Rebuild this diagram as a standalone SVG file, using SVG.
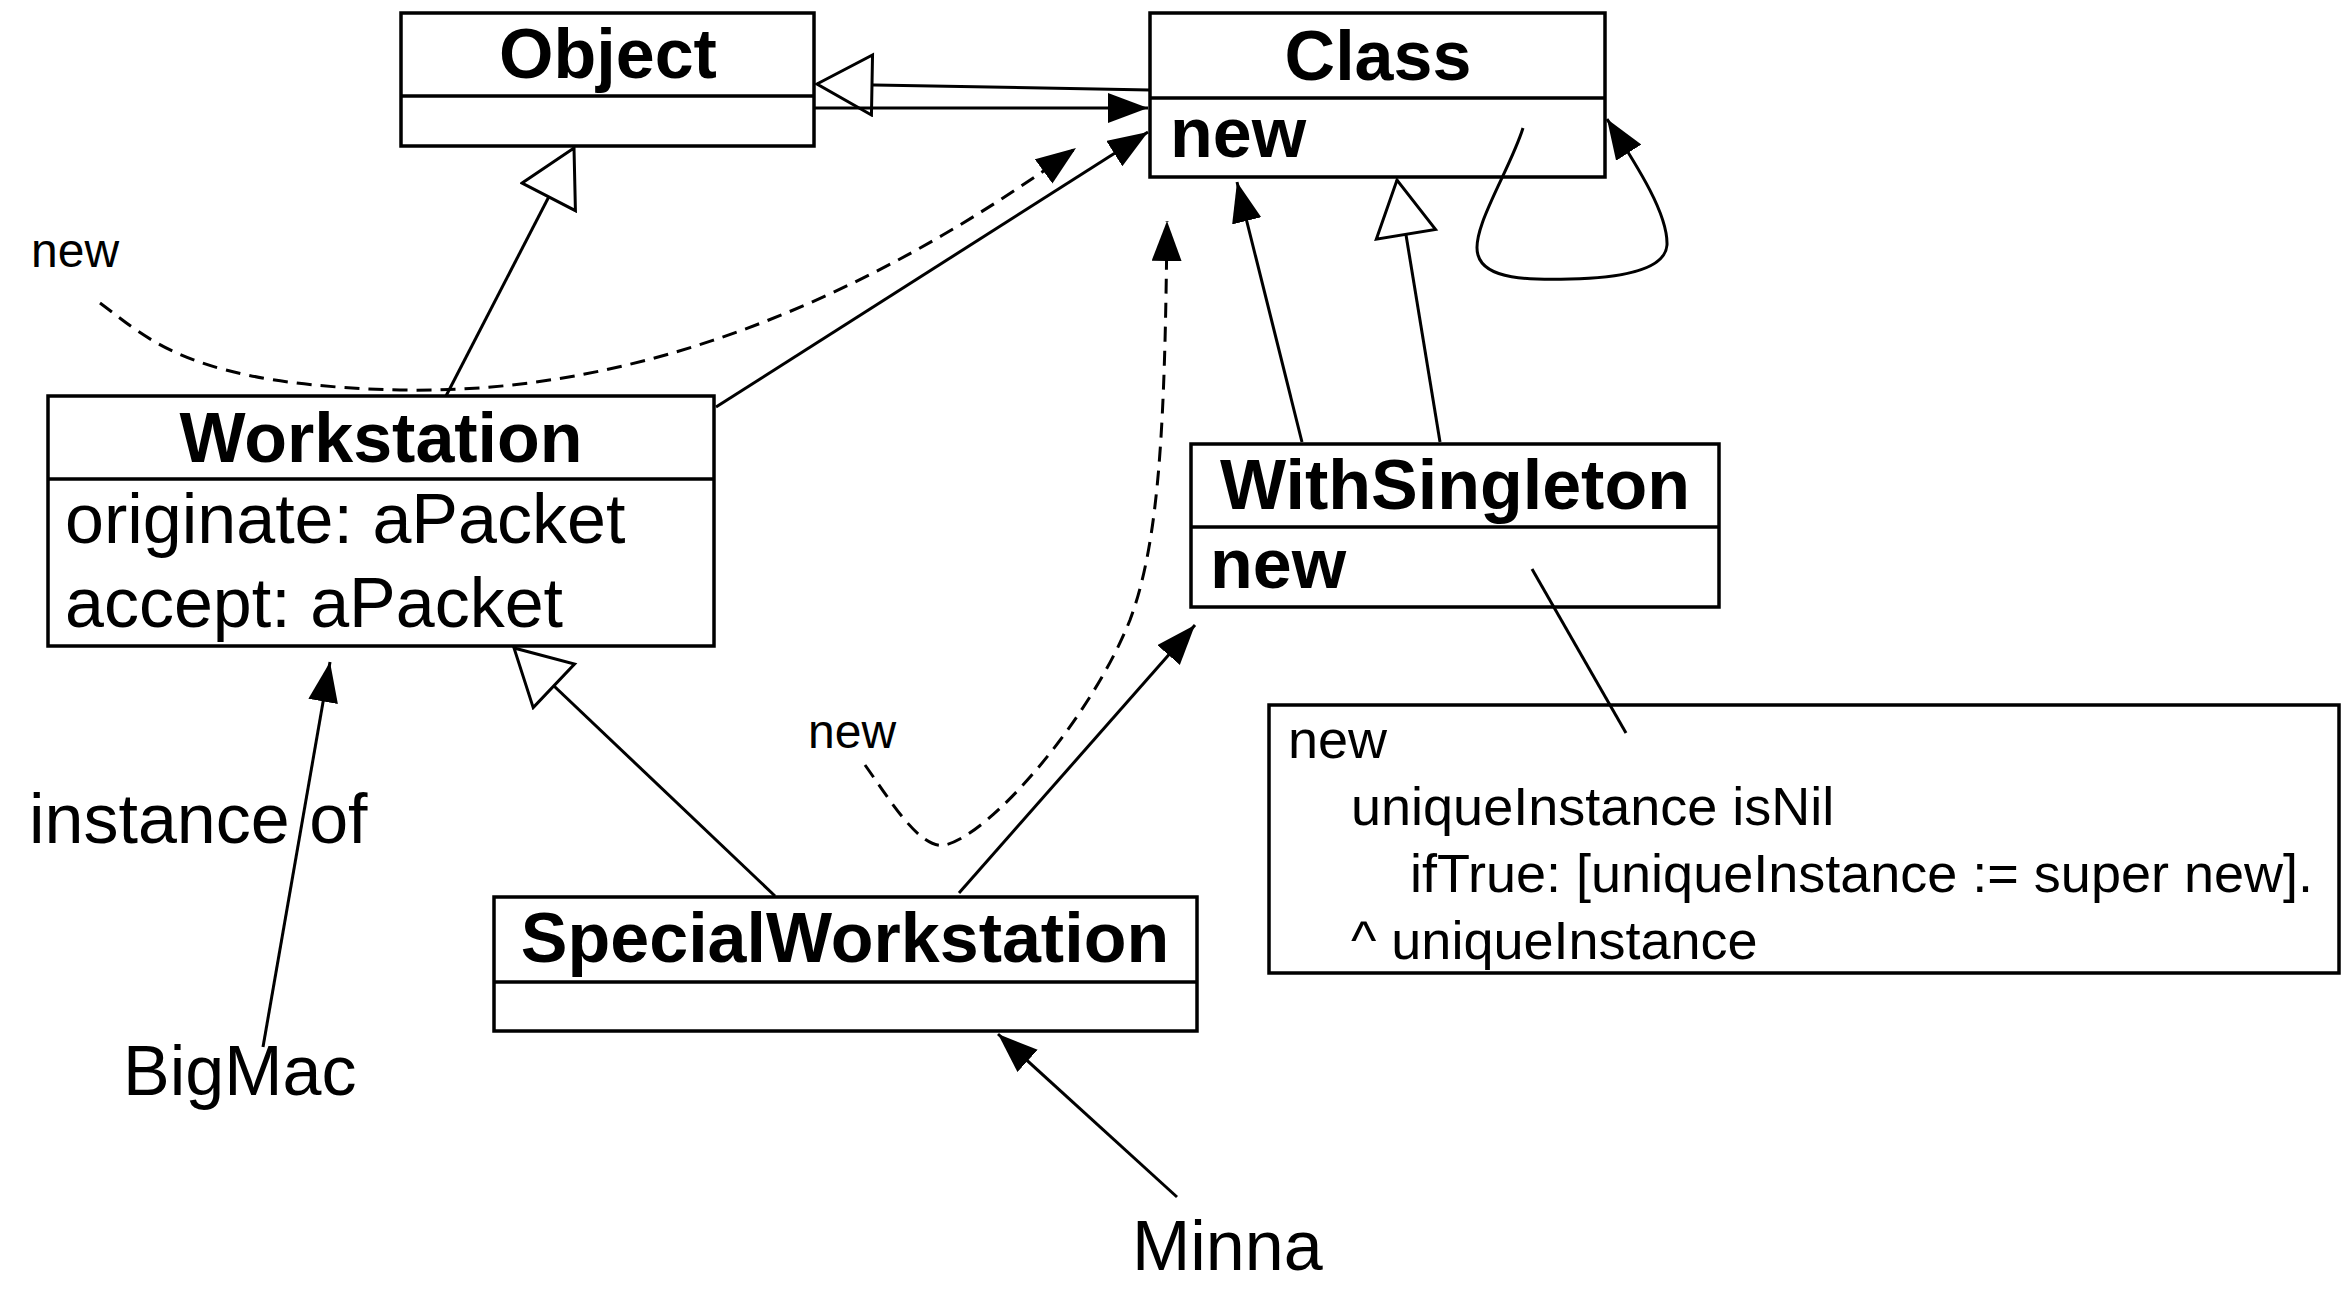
<svg xmlns="http://www.w3.org/2000/svg" width="2349" height="1291" viewBox="0 0 2349 1291">
<style>
.box{fill:#fff;stroke:#000;stroke-width:3.5}
.div{stroke:#000;stroke-width:3.5}
.t{font-family:"Liberation Sans",Arial,Helvetica,sans-serif;fill:#000}
.b{font-weight:bold;font-size:70px}
.r{font-size:70px}
.n{font-size:54px}
.s{font-size:48px}
.c{text-anchor:middle}
.ln{fill:none;stroke:#000;stroke-width:3}
.dash{stroke-dasharray:15 9}
</style>
<defs>
<marker id="arr" markerUnits="userSpaceOnUse" markerWidth="44" markerHeight="34" refX="40" refY="15" orient="auto">
<path d="M0,0 L40,15 L0,30 Z" fill="#000"/>
</marker>
<marker id="gen" markerUnits="userSpaceOnUse" markerWidth="62" markerHeight="66" refX="57" refY="32" orient="auto">
<path d="M2,2 L57,32 L2,62 Z" fill="#fff" stroke="#000" stroke-width="3"/>
</marker>
</defs>
<rect width="2349" height="1291" fill="#fff"/>

<g id="Object">
<rect class="box" x="401" y="13" width="413" height="133"/>
<line class="div" x1="401" y1="96" x2="814" y2="96"/>
<text class="t b c" x="608" y="78">Object</text>
</g>

<g id="Class">
<rect class="box" x="1150" y="13" width="455" height="164"/>
<line class="div" x1="1150" y1="98" x2="1605" y2="98"/>
<text class="t b c" x="1378" y="80">Class</text>
<text class="t b" x="1170" y="157">new</text>
</g>

<g id="Workstation">
<rect class="box" x="48" y="396" width="666" height="250"/>
<line class="div" x1="48" y1="479" x2="714" y2="479"/>
<text class="t b c" x="381" y="462">Workstation</text>
<text class="t r" x="65" y="543">originate: aPacket</text>
<text class="t r" x="65" y="627">accept: aPacket</text>
</g>

<g id="WithSingleton">
<rect class="box" x="1191" y="444" width="528" height="163"/>
<line class="div" x1="1191" y1="527" x2="1719" y2="527"/>
<text class="t b c" x="1455" y="509">WithSingleton</text>
<text class="t b" x="1210" y="588">new</text>
</g>

<g id="SpecialWorkstation">
<rect class="box" x="494" y="897" width="703" height="134"/>
<line class="div" x1="494" y1="982" x2="1197" y2="982"/>
<text class="t b c" x="845" y="962">SpecialWorkstation</text>
</g>

<g id="Note">
<rect class="box" x="1269" y="705" width="1070" height="268"/>
<text class="t n" x="1288" y="758">new</text>
<text class="t n" x="1351" y="825">uniqueInstance isNil</text>
<text class="t n" x="1410" y="892">ifTrue: [uniqueInstance := super new].</text>
<text class="t n" x="1351" y="959">^ uniqueInstance</text>
</g>

<g id="labels">
<text class="t s" x="31" y="267">new</text>
<text class="t s" x="808" y="748">new</text>
<text class="t r" x="29" y="843">instance of</text>
<text class="t r" x="123" y="1095">BigMac</text>
<text class="t r" x="1132" y="1270">Minna</text>
</g>

<g id="connectors">
<path class="ln" d="M1150,90 L817,84" marker-end="url(#gen)"/>
<path class="ln" d="M815,108 L1148,108" marker-end="url(#arr)"/>
<path class="ln" d="M446,396 L574,148" marker-end="url(#gen)"/>
<path class="ln" d="M716,407 L1148,132" marker-end="url(#arr)"/>
<path class="ln dash" d="M100,303 C150,340 190,385 400,390 C650,395 880,290 1076,148" marker-end="url(#arr)"/>
<path class="ln" d="M1302,442 L1237,182" marker-end="url(#arr)"/>
<path class="ln" d="M1440,442 L1397,180" marker-end="url(#gen)"/>
<path class="ln" d="M1523,128 C1510,170 1470,230 1478,255 C1485,280 1530,280 1570,279 C1620,278 1665,270 1667,245 C1668,215 1640,170 1607,119" marker-end="url(#arr)"/>
<path class="ln" d="M775,896 L514,648" marker-end="url(#gen)"/>
<path class="ln" d="M263,1047 L330,662" marker-end="url(#arr)"/>
<path class="ln" d="M1177,1197 L998,1034" marker-end="url(#arr)"/>
<path class="ln" d="M959,893 L1195,625" marker-end="url(#arr)"/>
<path class="ln dash" d="M865,765 C890,800 920,850 945,845 C990,835 1090,720 1130,620 C1160,540 1165,420 1167,221" marker-end="url(#arr)"/>
<path class="ln" d="M1532,569 L1626,733"/>
</g>
</svg>
